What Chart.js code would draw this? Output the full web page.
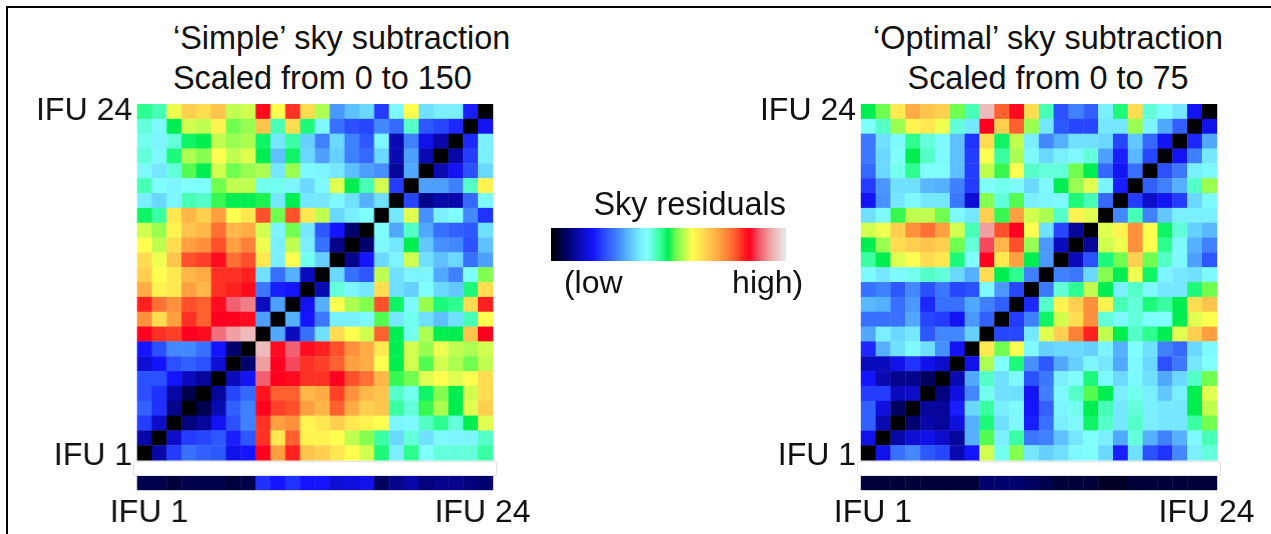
<!DOCTYPE html>
<html><head><meta charset="utf-8">
<script src="https://cdn.jsdelivr.net/npm/chart.js@4"></script>
<style>
html,body{margin:0;padding:0;background:#fff;width:1271px;height:534px;overflow:hidden;font-family:"Liberation Sans",Arial,sans-serif;color:#111}
canvas,.abs{position:absolute}
canvas{filter:blur(.4px)}
.t{font-size:32.4px;line-height:40px;white-space:nowrap}
</style></head><body>
<div class="abs" style="left:6px;top:6px;width:1265px;height:2px;background:#000"></div>
<div class="abs" style="left:6px;top:6px;width:2px;height:528px;background:#000"></div>
<div class="abs t" style="left:173px;top:18px">‘Simple’ sky subtraction<br>Scaled from 0 to 150</div>
<div class="abs t" style="left:848px;top:18px;width:400px;text-align:center">‘Optimal’ sky subtraction<br>Scaled from 0 to 75</div>
<canvas id="cLeft"></canvas>
<canvas id="cRight"></canvas>
<canvas id="cBar"></canvas>
<div class="abs" style="left:133px;top:461px;width:362px;height:13px;background:#fff;border:1px solid #e2e2e2;border-radius:2px"></div>
<div class="abs" style="left:857px;top:461px;width:362px;height:13px;background:#fff;border:1px solid #e2e2e2;border-radius:2px"></div>
<script>
const simpleMatrix = [
[53,51,67,72,71,73,64,65,86,68,83,71,63,33,38,41,22,46,68,42,44,44,19,0],
[49,46,56,65,64,69,60,62,73,51,71,54,46,28,24,23,31,27,50,25,23,20,0,17],
[48,45,49,55,56,64,62,63,55,43,52,40,30,41,30,25,46,11,30,16,10,0,20,44],
[49,46,54,63,61,68,64,66,56,38,55,41,34,40,30,27,41,11,34,11,0,10,22,44],
[46,43,49,59,56,65,60,62,63,43,62,46,45,43,38,34,32,9,35,0,11,17,24,41],
[51,47,45,47,47,60,64,64,48,48,45,41,46,66,56,51,65,22,0,34,34,30,50,69],
[44,41,45,51,50,58,56,56,57,43,56,43,43,46,42,36,42,0,23,8,10,10,27,46],
[55,52,70,74,72,76,68,70,81,60,81,70,64,41,44,47,0,43,66,32,44,47,31,21],
[65,62,69,73,74,79,74,75,65,45,60,43,25,18,6,0,47,35,50,35,28,26,25,42],
[68,64,71,76,77,81,76,78,67,44,64,44,28,8,0,6,46,43,56,39,32,31,24,38],
[71,67,73,81,82,86,79,81,70,44,68,48,40,0,8,18,41,45,65,42,38,41,28,34],
[72,68,70,74,75,83,83,84,42,28,36,12,0,41,28,25,64,42,45,45,35,30,47,61],
[75,69,70,76,74,83,84,86,29,19,18,0,11,49,45,43,71,42,40,47,41,39,54,71],
[84,79,77,81,80,86,91,93,12,34,0,17,36,68,63,61,81,55,46,62,54,53,71,84],
[77,71,76,83,80,87,87,86,34,0,36,18,29,44,44,46,59,43,48,42,38,42,51,68],
[87,83,82,87,86,92,95,97,0,35,12,28,42,71,68,65,80,56,48,63,56,56,73,87],
[18,24,31,31,28,18,6,0,97,86,91,86,84,81,77,75,70,56,65,62,67,64,63,65],
[14,18,24,26,24,14,0,6,95,87,90,83,82,80,76,75,68,56,65,59,65,63,60,64],
[24,24,18,12,9,0,12,17,91,87,86,83,83,87,81,79,74,58,60,66,68,66,68,71],
[24,21,10,4,0,9,23,27,85,80,80,74,75,82,77,74,73,50,48,55,61,56,65,71],
[26,21,8,0,4,11,26,30,87,82,81,76,74,80,75,72,73,52,49,58,63,56,66,72],
[22,13,0,7,9,17,24,30,83,76,77,69,70,72,70,69,68,45,46,50,53,49,56,66],
[10,0,13,22,23,25,19,25,83,70,80,69,69,68,64,61,52,41,49,42,46,45,45,50],
[0,10,22,28,26,25,16,18,87,76,84,73,72,70,68,65,54,44,53,47,49,49,49,52]
];
const optimalMatrix = [
[56,60,70,75,73,72,60,51,97,80,86,71,51,24,30,26,44,54,71,49,47,43,17,0],
[47,50,62,69,70,67,49,43,87,72,80,62,43,25,23,23,43,43,62,45,35,26,0,16],
[29,42,46,53,49,46,38,21,71,55,64,44,31,36,42,42,41,23,39,27,17,0,20,35],
[29,41,47,56,50,46,38,22,68,52,63,46,41,44,46,49,34,19,37,23,0,17,30,43],
[27,41,48,53,47,47,38,22,64,58,68,50,49,49,60,56,27,17,28,0,24,29,44,46],
[22,33,42,42,37,36,30,22,47,48,46,41,46,56,62,66,45,19,0,26,30,36,50,62],
[17,32,43,46,43,43,29,14,61,49,59,44,45,46,54,51,27,0,22,13,17,22,41,46],
[42,46,58,64,64,60,46,43,72,58,76,65,63,50,69,66,0,31,51,30,39,44,44,44],
[65,67,72,77,79,76,65,51,95,81,87,68,42,23,9,0,66,69,77,68,55,49,40,37],
[56,62,71,72,73,72,60,49,90,74,81,62,33,12,0,9,65,67,77,68,53,46,36,30],
[52,56,66,68,71,70,54,47,87,70,76,56,33,0,12,24,54,60,72,60,50,46,34,25],
[46,43,46,48,50,49,41,36,71,56,53,30,0,30,29,41,61,56,67,55,45,43,42,46],
[28,30,25,31,24,29,23,24,46,33,23,0,29,49,53,64,56,44,50,46,43,43,54,60],
[37,36,28,33,20,28,28,35,30,26,0,20,50,69,72,77,69,51,49,54,52,56,71,73],
[28,28,28,35,23,22,17,33,26,0,22,30,55,65,71,77,49,46,49,47,47,56,66,68],
[35,44,41,43,25,31,31,40,0,23,23,43,66,72,78,84,64,56,50,53,56,66,72,76],
[20,36,42,46,42,32,17,0,70,60,68,46,40,41,41,40,45,36,47,42,30,27,41,46],
[12,12,16,21,16,13,0,16,63,47,54,32,25,35,40,45,43,35,46,41,24,29,43,47],
[18,11,8,8,5,0,11,35,50,42,46,24,29,44,47,54,46,41,46,42,35,41,50,60],
[22,22,12,13,0,7,15,31,48,42,42,17,30,46,50,59,56,44,48,44,39,44,56,66],
[26,15,5,0,9,9,19,41,52,44,46,18,26,45,48,56,51,43,49,44,43,43,56,64],
[26,11,0,6,10,9,15,36,54,42,46,19,28,44,46,55,50,43,50,44,43,43,52,60],
[16,0,10,14,16,13,9,36,59,44,52,29,30,38,43,47,44,35,49,36,30,36,46,51],
[0,16,28,31,25,23,11,18,65,48,61,43,40,42,46,47,41,19,42,24,21,31,44,49]
];
const simpleStrip = [4,4,3,4,4,4,3,4,21,18,21,18,18,14,15,16,5,8,10,7,8,8,7,6];
const optimalStrip = [3,3,3,3,3,3,3,3,6,6,6,5,4,3,3,3,2,2,3,3,3,3,3,3];
const ifuTickLabels = ['IFU 1','IFU 24'];
const barLabels = ['(low','high)'];
const barTitle = 'Sky residuals';
const cmapLevels = [0,5,10,18,24,30,36,40,44,47,50,53,56,60,64,68,72,76,80,84,87,91,95,100];
const cmapColors = ['#000000','#000060','#0808a8','#1414ff','#2b50ff','#3f80ff','#55b0ff','#66d0ff','#7af0ff','#80ffff','#55ffc8','#2cff90','#00ee50','#70ff50','#c0ff50','#ffff50','#ffd050','#ffa040','#ff6030','#ff2020','#ff0020','#f06070','#f0a0a0','#e8e4e4'];
const cmapBarPos = [0,.06,.11,.18,.23,.28,.32,.35,.385,.41,.44,.47,.50,.53,.57,.60,.66,.72,.78,.82,.845,.89,.93,.99];

const FONT = {family:'"Liberation Sans",Arial,sans-serif', size:32};
function hex(c){return [1,3,5].map(i=>parseInt(c.substr(i,2),16));}
function colorOf(v){
  let i=0; while(i<cmapLevels.length-2 && v>cmapLevels[i+1]) i++;
  const t=Math.min(1,Math.max(0,(v-cmapLevels[i])/(cmapLevels[i+1]-cmapLevels[i])));
  const a=hex(cmapColors[i]),b=hex(cmapColors[i+1]);
  return 'rgb('+a.map((x,k)=>Math.round(x+(b[k]-x)*t)).join(',')+')';
}
function heat(id,matrix,strip,gridLeft,gridWidth){
  const cv=document.getElementById(id);
  const L=gridLeft-110, T=80;
  cv.style.left=L+'px'; cv.style.top=T+'px';
  const W=110+gridWidth+50, H=455;
  cv.width=W; cv.height=H; cv.style.width=W+'px'; cv.style.height=H+'px';
  const pts=[],cols=[];
  matrix.forEach((row,r)=>row.forEach((v,c)=>{pts.push({x:c,y:23-r});cols.push(colorOf(v));}));
  const sPts=strip.map((v,c)=>({x:c,y:-2}));
  const sCols=strip.map(colorOf);
  const radius=ctx=>{
    const s=ctx.chart.scales; if(!s.x) return 10;
    return (Math.max(s.x.width/24, s.y.height/26)+0.4)/Math.SQRT2;
  };
  const base={pointStyle:'rect',pointRadius:radius,pointHoverRadius:radius,pointBorderWidth:0,showLine:false,clip:false};
  new Chart(cv,{type:'scatter',
    data:{datasets:[
      {...base,data:pts,pointBackgroundColor:cols},
      {...base,data:sPts,pointBackgroundColor:sCols}
    ]},
    options:{responsive:false,animation:false,devicePixelRatio:1,
      layout:{padding:{top:0,right:50,bottom:0,left:0}},
      plugins:{legend:{display:false},tooltip:{enabled:false}},
      scales:{
        x:{type:'linear',min:-0.5,max:23.5,
          grid:{display:false,drawTicks:false},border:{display:false},
          afterBuildTicks:s=>{s.ticks=[{value:0.3},{value:22.8}];},
          afterFit:s=>{s.height=45;},
          ticks:{autoSkip:false,maxRotation:0,padding:4,color:'#111',font:FONT,callback:(v,i)=>ifuTickLabels[i]}},
        y:{type:'linear',min:-2.5,max:23.5,
          grid:{display:false,drawTicks:false},border:{display:false},
          afterBuildTicks:s=>{s.ticks=[{value:-0.2},{value:23}];},
          afterFit:s=>{s.width=110;},
          ticks:{autoSkip:false,padding:5,color:'#111',font:FONT,callback:(v,i)=>ifuTickLabels[i]}}
      }}
  });
}
heat('cLeft',simpleMatrix,simpleStrip,137,355.5);
heat('cRight',optimalMatrix,optimalStrip,861,356);

const bc=document.getElementById('cBar');
bc.style.left='531px'; bc.style.top='180px';
bc.width=290; bc.height=125; bc.style.width='290px'; bc.style.height='125px';
new Chart(bc,{type:'bar',
  data:{labels:[barTitle],datasets:[{data:[100],barPercentage:1,categoryPercentage:1,borderWidth:0,
    backgroundColor:ctx=>{
      const a=ctx.chart.chartArea; if(!a) return '#000';
      const g=ctx.chart.ctx.createLinearGradient(a.left,0,a.right,0);
      cmapBarPos.forEach((p,i)=>g.addColorStop(p,cmapColors[i]));
      return g;
    }}]},
  options:{indexAxis:'y',responsive:false,animation:false,devicePixelRatio:1,
    layout:{padding:{left:20,right:35,top:0,bottom:0}},
    plugins:{legend:{display:false},tooltip:{enabled:false},
      title:{display:true,text:barTitle,align:'end',fullSize:false,color:'#111',font:{...FONT,size:32.4,weight:'normal'},padding:{top:7,bottom:2}}},
    scales:{
      y:{display:false},
      x:{min:0,max:100,grid:{display:false,drawTicks:false},border:{display:false},
        afterBuildTicks:s=>{s.ticks=[{value:18},{value:92.2}];},
        afterFit:s=>{s.height=44;},
        ticks:{autoSkip:false,maxRotation:0,padding:4,color:'#111',font:FONT,callback:(v,i)=>barLabels[i]}}
    }}
});
</script>
</body></html>
